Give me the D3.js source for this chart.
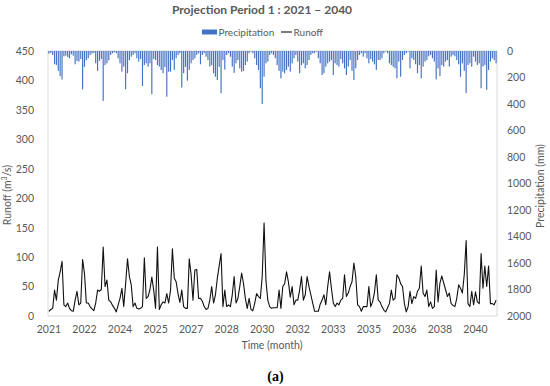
<!DOCTYPE html>
<html>
<head>
<meta charset="utf-8">
<script src="https://cdn.jsdelivr.net/npm/d3@7"></script>
<style>
  html, body { margin: 0; padding: 0; background: #fff; }
  svg { display: block; }
  text { font-family: Lato, "Open Sans", sans-serif; }
</style>
</head>
<body>
<svg id="chart" width="550" height="386"></svg>
<script>
// ---------------- DATA ----------------
const startYear = 2021;
const nMonths = 240;
const months = d3.range(nMonths).map(i => `${startYear + Math.floor(i / 12)}-${String(i % 12 + 1).padStart(2, "0")}`);

// Monthly runoff (m3/s)
const runoff = [
  8, 11, 13, 44, 27, 61, 75, 93, 19, 16, 22, 13,
  9, 8, 27, 42, 19, 22, 96, 72, 22, 22, 16, 12,
  9, 22, 44, 42, 45, 117, 50, 61, 27, 24, 18, 13,
  7, 19, 30, 47, 16, 55, 97, 67, 53, 16, 22, 13,
  12, 13, 16, 99, 30, 33, 45, 66, 44, 13, 117, 11,
  19, 24, 22, 38, 22, 44, 114, 64, 58, 38, 23, 44,
  16, 13, 13, 97, 70, 27, 78, 79, 30, 30, 25, 16,
  11, 13, 27, 50, 22, 36, 64, 85, 106, 16, 44, 16,
  19, 16, 36, 67, 22, 30, 50, 73, 55, 30, 13, 30,
  11, 9, 22, 38, 33, 30, 67, 158, 60, 27, 16, 13,
  14, 14, 14, 44, 13, 50, 55, 75, 58, 32, 50, 19,
  27, 27, 44, 67, 27, 36, 67, 50, 36, 22, 8, 8,
  8, 20, 27, 36, 19, 50, 75, 47, 22, 16, 22, 19,
  27, 30, 70, 33, 39, 50, 58, 90, 67, 19, 16, 8,
  16, 16, 16, 50, 16, 24, 40, 70, 27, 24, 16, 10,
  7, 14, 21, 44, 27, 30, 70, 65, 55, 50, 21, 7,
  16, 42, 21, 33, 30, 42, 47, 85, 39, 33, 44, 16,
  24, 13, 16, 78, 24, 56, 68, 56, 45, 33, 39, 21,
  18, 16, 30, 53, 47, 39, 70, 128, 21, 16, 42, 19,
  41, 24, 21, 106, 47, 85, 50, 85, 21, 21, 19, 27
];

// Monthly precipitation (mm)
const precipitation = [
  20, 15, 30, 100, 105, 150, 190, 215, 40, 35, 45, 55,
  25, 35, 100, 75, 80, 60, 290, 120, 70, 55, 30, 20,
  15, 93, 150, 75, 60, 377, 106, 93, 70, 30, 17, 10,
  17, 55, 93, 156, 118, 289, 168, 70, 43, 30, 17, 55,
  80, 60, 264, 106, 93, 118, 93, 327, 60, 68, 106, 118,
  143, 168, 120, 345, 156, 156, 68, 143, 55, 30, 17, 276,
  168, 120, 224, 143, 93, 68, 55, 30, 17, 100, 30, 17,
  43, 68, 118, 106, 168, 194, 219, 120, 318, 68, 140, 30,
  17, 43, 118, 165, 93, 68, 131, 156, 150, 106, 80, 17,
  5, 17, 55, 106, 143, 281, 400, 194, 93, 80, 30, 17,
  30, 55, 106, 150, 206, 156, 168, 143, 118, 156, 93, 55,
  30, 80, 168, 106, 93, 131, 106, 68, 30, 17, 17, 5,
  55, 93, 181, 168, 118, 93, 80, 68, 181, 93, 106, 118,
  60, 93, 131, 181, 118, 68, 150, 219, 131, 68, 30, 17,
  43, 17, 55, 93, 60, 80, 100, 143, 68, 68, 55, 17,
  5, 17, 93, 106, 118, 131, 206, 80, 194, 68, 30, 17,
  5, 131, 55, 68, 100, 168, 106, 206, 118, 80, 68, 40,
  30, 55, 80, 214, 131, 189, 106, 118, 80, 68, 118, 43,
  30, 40, 68, 100, 194, 93, 150, 318, 106, 93, 118, 43,
  80, 106, 93, 281, 118, 106, 293, 143, 80, 55, 68, 93
];

const runoffTicks = d3.range(0, 451, 50);
const precipTicks = d3.range(0, 2001, 200);
const labelEvery = 19; // category label interval (months)

const titleText = "Projection Period 1 : 2021 \u2013 2040";
const seriesNames = ["Precipitation", "Runoff"];

// ---------------- LAYOUT ----------------
const svg = d3.select("#chart");
const L = 48, R = 497, T = 51, B = 316;
const textCol = "#595959";
const barCol = "#4472C4";

const x = d3.scaleBand().domain(months).range([L, R]).paddingInner(0.38).paddingOuter(0.19);
const yR = d3.scaleLinear().domain([0, 450]).range([B, T]);
const yP = d3.scaleLinear().domain([0, 2000]).range([T, B]);

// plot border
svg.append("rect")
  .attr("x", L).attr("y", T).attr("width", R - L).attr("height", B - T)
  .attr("fill", "none").attr("stroke", "#d9d9d9").attr("stroke-width", 1);

// precipitation bars (hanging from top)
svg.append("g").selectAll("rect")
  .data(precipitation)
  .join("rect")
  .attr("x", (d, i) => x(months[i]))
  .attr("y", yP(0))
  .attr("width", x.bandwidth())
  .attr("height", d => yP(d) - yP(0))
  .attr("fill", barCol);

// runoff line
const line = d3.line()
  .x((d, i) => x(months[i]) + x.bandwidth() / 2)
  .y(d => yR(d));
svg.append("path")
  .datum(runoff)
  .attr("d", line)
  .attr("fill", "none")
  .attr("stroke", "#111")
  .attr("stroke-width", 1.1)
  .attr("stroke-linejoin", "round");

// axes
const axL = svg.append("g").attr("transform", `translate(${L},0)`)
  .call(d3.axisLeft(yR).tickValues(runoffTicks).tickFormat(d3.format("d")).tickSize(0).tickPadding(14));
const axR = svg.append("g").attr("transform", `translate(${R},0)`)
  .call(d3.axisRight(yP).tickValues(precipTicks).tickFormat(d3.format("d")).tickSize(0).tickPadding(10));
const axB = svg.append("g").attr("transform", `translate(0,${B})`)
  .call(d3.axisBottom(x)
    .tickValues(months.filter((m, i) => i % labelEvery === 0))
    .tickFormat(m => m.slice(0, 4))
    .tickSize(0).tickPadding(10));
[axL, axR, axB].forEach(g => {
  g.select(".domain").remove();
  g.selectAll("text").attr("fill", textCol).style("font-size", "10.5px").style("font-family", "Lato, sans-serif");
});

// title
svg.append("text")
  .attr("x", 262).attr("y", 13.5)
  .attr("text-anchor", "middle")
  .attr("fill", textCol)
  .style("font-size", "12px").style("font-weight", "bold")
  .text(titleText);

// legend
const lg = svg.append("g");
lg.append("rect").attr("x", 202).attr("y", 29.5).attr("width", 15).attr("height", 5).attr("fill", barCol);
lg.append("text").attr("x", 218.5).attr("y", 35.5).attr("fill", textCol).style("font-size", "10px").text(seriesNames[0]);
lg.append("line").attr("x1", 281).attr("x2", 292).attr("y1", 32).attr("y2", 32).attr("stroke", "#111").attr("stroke-width", 1.1);
lg.append("text").attr("x", 293.5).attr("y", 35.5).attr("fill", textCol).style("font-size", "10px").text(seriesNames[1]);

// axis titles
const yt = svg.append("text")
  .attr("transform", "translate(11,195) rotate(-90)")
  .attr("text-anchor", "middle")
  .attr("fill", textCol).style("font-size", "10.5px");
yt.append("tspan").text("Runoff (m");
yt.append("tspan").attr("dy", -4).style("font-size", "7px").text("3");
yt.append("tspan").attr("dy", 4).text("/s)");

svg.append("text")
  .attr("transform", "translate(544,186) rotate(-90)")
  .attr("text-anchor", "middle")
  .attr("fill", textCol).style("font-size", "10.5px")
  .text("Precipitation (mm)");

svg.append("text")
  .attr("x", 272).attr("y", 349)
  .attr("text-anchor", "middle")
  .attr("fill", textCol).style("font-size", "10.5px")
  .text("Time (month)");

svg.append("text")
  .attr("x", 275.5).attr("y", 381)
  .attr("text-anchor", "middle")
  .attr("fill", "#000")
  .style("font-family", "'Liberation Serif', serif")
  .style("font-size", "14px").style("font-weight", "bold")
  .text("(a)");
</script>
</body>
</html>
